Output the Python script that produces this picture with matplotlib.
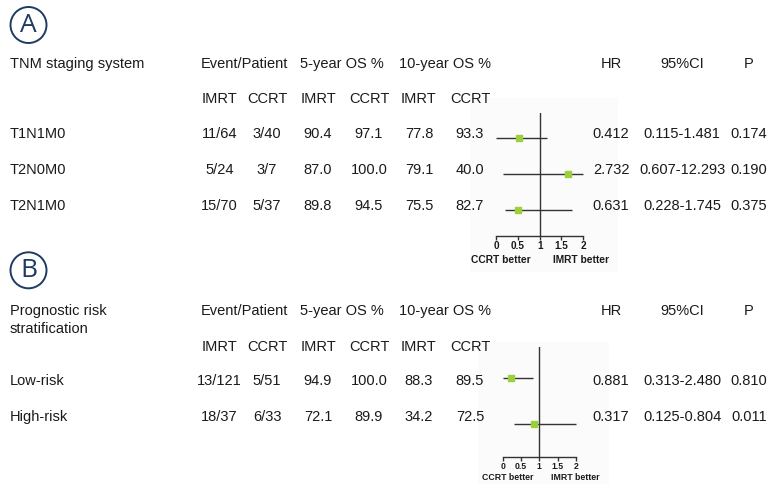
import matplotlib
matplotlib.use("Agg")
import matplotlib.pyplot as plt
from matplotlib.patches import Circle, Rectangle

plt.rcParams['font.family'] = ['Liberation Sans', 'DejaVu Sans']

# ---------------- data ----------------
# Panel A: TNM staging system
a_labels = ["T1N1M0", "T2N0M0", "T2N1M0"]
a_event_imrt = ["11/64", "5/24", "15/70"]
a_event_ccrt = ["3/40", "3/7", "5/37"]
a_os5_imrt = ["90.4", "87.0", "89.8"]
a_os5_ccrt = ["97.1", "100.0", "94.5"]
a_os10_imrt = ["77.8", "79.1", "75.5"]
a_os10_ccrt = ["93.3", "40.0", "82.7"]
a_hr = ["0.412", "2.732", "0.631"]
a_ci = ["0.115-1.481", "0.607-12.293", "0.228-1.745"]
a_p = ["0.174", "0.190", "0.375"]
# forest plot marks as drawn in the figure
a_pt = [0.53, 1.66, 0.50]
a_lo = [0.0, 0.17, 0.21]
a_hi = [1.17, 2.0, 1.73]

# Panel B: Prognostic risk stratification
b_labels = ["Low-risk", "High-risk"]
b_event_imrt = ["13/121", "18/37"]
b_event_ccrt = ["5/51", "6/33"]
b_os5_imrt = ["94.9", "72.1"]
b_os5_ccrt = ["100.0", "89.9"]
b_os10_imrt = ["88.3", "34.2"]
b_os10_ccrt = ["89.5", "72.5"]
b_hr = ["0.881", "0.317"]
b_ci = ["0.313-2.480", "0.125-0.804"]
b_p = ["0.810", "0.011"]
b_pt = [0.23, 0.85]
b_lo = [0.02, 0.32]
b_hi = [0.82, 2.0]

xticks = [0, 0.5, 1, 1.5, 2]
xtick_labels = ["0", "0.5", "1", "1.5", "2"]

# ---------------- layout ----------------
W, H = 783, 484
fig = plt.figure(figsize=(W / 100, H / 100), dpi=100)
ax = fig.add_axes([0, 0, 1, 1])
ax.set_xlim(0, W)
ax.set_ylim(H, 0)
ax.axis('off')

TXT = '#1a1a1a'
NAVY = '#1d3b63'
FS = 10.5

col_header_x = [244, 342, 445]
col_header_txt = ["Event/Patient", "5-year OS %", "10-year OS %"]
stat_x = [611, 682, 749]
stat_txt = ["HR", "95%CI", "P"]
sub_x = [219.5, 267, 318, 369, 419, 470]
sub_txt = ["IMRT", "CCRT", "IMRT", "CCRT", "IMRT", "CCRT"]


def panel(letter, cy, title_lines, head_y, sub_y, row_ys, cols, stats):
    ax.add_patch(Circle((28.5, cy), 18, fill=False, ec=NAVY, lw=1.4))
    ax.text(28.8, cy + 0.5, letter, ha='center', va='center', color=NAVY,
            fontsize=19, family=['Open Sans', 'DejaVu Sans'])
    for i, t in enumerate(title_lines):
        ax.text(10, head_y + i * 18, t, ha='left', va='center', color=TXT, fontsize=FS)
    for x, t in zip(col_header_x, col_header_txt):
        ax.text(x, head_y, t, ha='center', va='center', color=TXT, fontsize=FS)
    for x, t in zip(stat_x, stat_txt):
        ax.text(x, head_y, t, ha='center', va='center', color=TXT, fontsize=FS)
    for x, t in zip(sub_x, sub_txt):
        ax.text(x, sub_y, t, ha='center', va='center', color=TXT, fontsize=FS)
    for r, y in enumerate(row_ys):
        ax.text(10, y, cols[0][r], ha='left', va='center', color=TXT, fontsize=FS)
        for x, col in zip(sub_x, cols[1:]):
            ax.text(x, y, col[r], ha='center', va='center', color=TXT, fontsize=FS)
        for x, col in zip(stat_x, stats):
            ax.text(x, y, col[r], ha='center', va='center', color=TXT, fontsize=FS)


panel("A", 25, ["TNM staging system"], 64, 99, [134.3, 170, 205.7],
      [a_labels, a_event_imrt, a_event_ccrt, a_os5_imrt, a_os5_ccrt, a_os10_imrt, a_os10_ccrt],
      [a_hr, a_ci, a_p])
panel("B", 270.3, ["Prognostic risk", "stratification"], 311, 347, [381, 417],
      [b_labels, b_event_imrt, b_event_ccrt, b_os5_imrt, b_os5_ccrt, b_os10_imrt, b_os10_ccrt],
      [b_hr, b_ci, b_p])

# faint background boxes behind forest plots
ax.add_patch(Rectangle((470, 98), 148, 174, fc='#fbfbfb', ec='none', zorder=0))
ax.add_patch(Rectangle((478, 342), 131, 142, fc='#fbfbfb', ec='none', zorder=0))

LINE = '#333333'
GREEN = '#9ccf3c'


def forest(x0, x2, ytop, ybot, row0, step, pts, los, his, tick_fs, lab_fs, lab_y, lab_x):
    left = x0 / W
    width = (x2 - x0) / W
    bottom = (H - ybot) / H
    height = (ybot - ytop) / H
    f = fig.add_axes([left, bottom, width, height])
    f.patch.set_alpha(0)
    n = len(pts)
    f.set_xlim(0, 2)
    f.set_ylim((ybot - row0) / step, (ytop - row0) / step)
    for s in ['left', 'right', 'top']:
        f.spines[s].set_visible(False)
    f.spines['bottom'].set_color(LINE)
    f.spines['bottom'].set_linewidth(1.0)
    f.axvline(1, color=LINE, lw=1.0)
    for i in range(n):
        f.plot([los[i], his[i]], [i, i], color=LINE, lw=1.0, solid_capstyle='butt', clip_on=False)
        f.plot(pts[i], i, marker='s', ms=4.8, color=GREEN, mec=GREEN, clip_on=False, zorder=3)
    f.set_yticks([])
    f.set_xticks(xticks)
    f.set_xticklabels(xtick_labels, fontweight='bold', fontsize=tick_fs, color=TXT)
    f.tick_params(axis='x', length=3, width=1.0, color=LINE, pad=1)
    ax.text(lab_x[0], lab_y, "CCRT better", ha='center', va='center', fontsize=lab_fs,
            fontweight='bold', color=TXT)
    ax.text(lab_x[1], lab_y, "IMRT better", ha='center', va='center', fontsize=lab_fs,
            fontweight='bold', color=TXT)


forest(496, 583.3, 113, 235.7, 137.7, 36.15, a_pt, a_lo, a_hi, 7.2, 7.4, 260, (501, 581.5))
forest(502.7, 576, 346.7, 456.7, 377.7, 46.6, b_pt, b_lo, b_hi, 6.2, 6.3, 477, (507.5, 575))

fig.savefig("out.png", dpi=100)
